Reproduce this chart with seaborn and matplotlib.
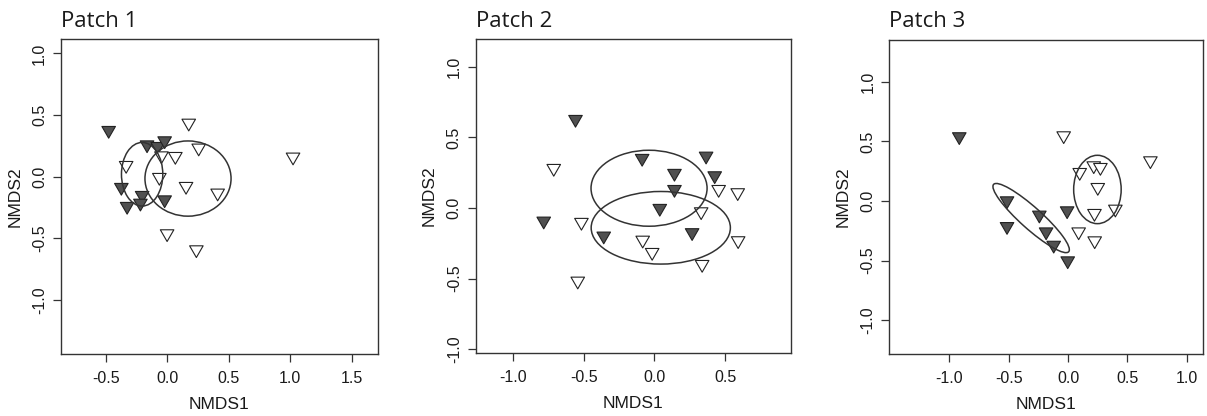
import numpy as np
import pandas as pd
import matplotlib
matplotlib.use("Agg")
import matplotlib.pyplot as plt
from matplotlib.patches import Ellipse
from matplotlib.path import Path
from matplotlib.ticker import FormatStrFormatter
import seaborn as sns

# ---- data ----
# Patch 1
p1_filled_x = [-0.475, -0.163, -0.076, -0.020, -0.372, -0.203, -0.217, -0.325, -0.020]
p1_filled_y = [0.360, 0.243, 0.230, 0.276, -0.102, -0.167, -0.230, -0.256, -0.203]
p1_open_x = [0.176, 0.257, 0.067, -0.046, -0.333, -0.063, 0.154, 0.411, 1.024, 0.000, 0.238]
p1_open_y = [0.419, 0.217, 0.149, 0.154, 0.076, -0.021, -0.094, -0.148, 0.144, -0.478, -0.608]
# ellipses: centre x, centre y, width, height, angle (deg)
p1_ellipses = [(-0.203, 0.020, 0.336, 0.516, 0), (0.170, -0.015, 0.700, 0.610, 0)]

# Patch 2
p2_filled_x = [-0.559, -0.087, 0.142, 0.366, 0.427, 0.142, 0.038, -0.784, -0.359, 0.267]
p2_filled_y = [0.614, 0.338, 0.232, 0.354, 0.215, 0.118, -0.016, -0.106, -0.212, -0.188]
p2_open_x = [-0.713, 0.455, 0.590, 0.331, -0.517, -0.083, -0.016, 0.593, 0.338, -0.543]
p2_open_y = [0.267, 0.118, 0.095, -0.040, -0.115, -0.241, -0.328, -0.245, -0.413, -0.531]
p2_ellipses = [(-0.038, 0.140, 0.822, 0.538, 0), (0.045, -0.140, 0.986, 0.514, 0)]

# Patch 3
p3_filled_x = [-0.916, -0.514, -0.514, -0.242, -0.185, -0.121, -0.008, -0.003]
p3_filled_y = [0.524, -0.014, -0.230, -0.134, -0.275, -0.387, -0.098, -0.518]
p3_open_x = [-0.037, 0.693, 0.098, 0.216, 0.272, 0.250, 0.222, 0.398, 0.089, 0.224]
p3_open_y = [0.532, 0.322, 0.224, 0.280, 0.266, 0.098, -0.120, -0.084, -0.275, -0.350]
p3_ellipses = [(-0.311, -0.143, 0.848, 0.180, -41.8), (0.247, 0.097, 0.400, 0.574, 0)]

titles = ["Patch 1", "Patch 2", "Patch 3"]
xlims = [(-0.863, 1.714), (-1.266, 0.967), (-1.505, 1.137)]
ylims = [(-1.438, 1.116), (-1.028, 1.196), (-1.288, 1.356)]
xticks = [[-0.5, 0.0, 0.5, 1.0, 1.5], [-1.0, -0.5, 0.0, 0.5], [-1.0, -0.5, 0.0, 0.5, 1.0]]
yticks = [-1.0, -0.5, 0.0, 0.5, 1.0]

# axes boxes in figure fraction (left, bottom, width, height)
boxes = [(0.0505, 0.149, 0.2626, 0.757),
         (0.3941, 0.151, 0.2612, 0.755),
         (0.7368, 0.148, 0.2600, 0.757)]

sns.set_theme(style="white")
plt.rcParams["font.family"] = ["Liberation Sans", "DejaVu Sans"]
plt.rcParams["axes.unicode_minus"] = False

palette = {"filled": "#505050", "open": "#ffffff"}
# point-down triangle, like R's pch 25
tri = Path([(-1, 0.866), (1, 0.866), (0, -0.866), (-1, 0.866)],
           [Path.MOVETO, Path.LINETO, Path.LINETO, Path.CLOSEPOLY])


def draw_panel(ax, title, fx, fy, ox, oy, ellipses, xlim, ylim, xt):
    df = pd.DataFrame({
        "NMDS1": list(fx) + list(ox),
        "NMDS2": list(fy) + list(oy),
        "group": ["filled"] * len(fx) + ["open"] * len(ox),
    })
    sns.scatterplot(data=df, x="NMDS1", y="NMDS2", hue="group", palette=palette,
                    marker=tri, s=95, edgecolor="#222222", linewidth=0.8,
                    legend=False, ax=ax, zorder=3)
    for cx, cy, w, h, ang in ellipses:
        ax.add_patch(Ellipse((cx, cy), w, h, angle=ang, fill=False,
                             edgecolor="#333333", lw=1.1, zorder=4))

    ax.set_xlim(*xlim)
    ax.set_ylim(*ylim)
    ax.set_xticks(xt)
    ax.set_yticks(yticks)
    ax.xaxis.set_major_formatter(FormatStrFormatter("%.1f"))
    ax.yaxis.set_major_formatter(FormatStrFormatter("%.1f"))
    ax.tick_params(axis="both", direction="out", length=6, width=0.9,
                   color="#333333", labelsize=11.5, labelcolor="#1a1a1a")
    ax.tick_params(axis="x", pad=6, bottom=True)
    ax.tick_params(axis="y", pad=4, left=True, labelrotation=90)
    for lab in ax.get_yticklabels():
        lab.set_va("center")
    for sp in ax.spines.values():
        sp.set_visible(True)
        sp.set_color("#333333")
        sp.set_linewidth(1.0)
    ax.set_xlabel("NMDS1", fontsize=12.5, labelpad=8, color="#1a1a1a")
    ax.set_ylabel("NMDS2", fontsize=12.5, labelpad=7, color="#1a1a1a")
    ax.set_title(title, loc="left", pad=9, fontsize=16, color="#1a1a1a",
                 family=["Open Sans", "DejaVu Sans"])


fig = plt.figure(figsize=(12.07, 4.16), dpi=100)
panels = [
    (p1_filled_x, p1_filled_y, p1_open_x, p1_open_y, p1_ellipses),
    (p2_filled_x, p2_filled_y, p2_open_x, p2_open_y, p2_ellipses),
    (p3_filled_x, p3_filled_y, p3_open_x, p3_open_y, p3_ellipses),
]
for i, (fx, fy, ox, oy, ell) in enumerate(panels):
    ax = fig.add_axes(boxes[i])
    draw_panel(ax, titles[i], fx, fy, ox, oy, ell, xlims[i], ylims[i], xticks[i])

fig.savefig("out.png", dpi=100)
